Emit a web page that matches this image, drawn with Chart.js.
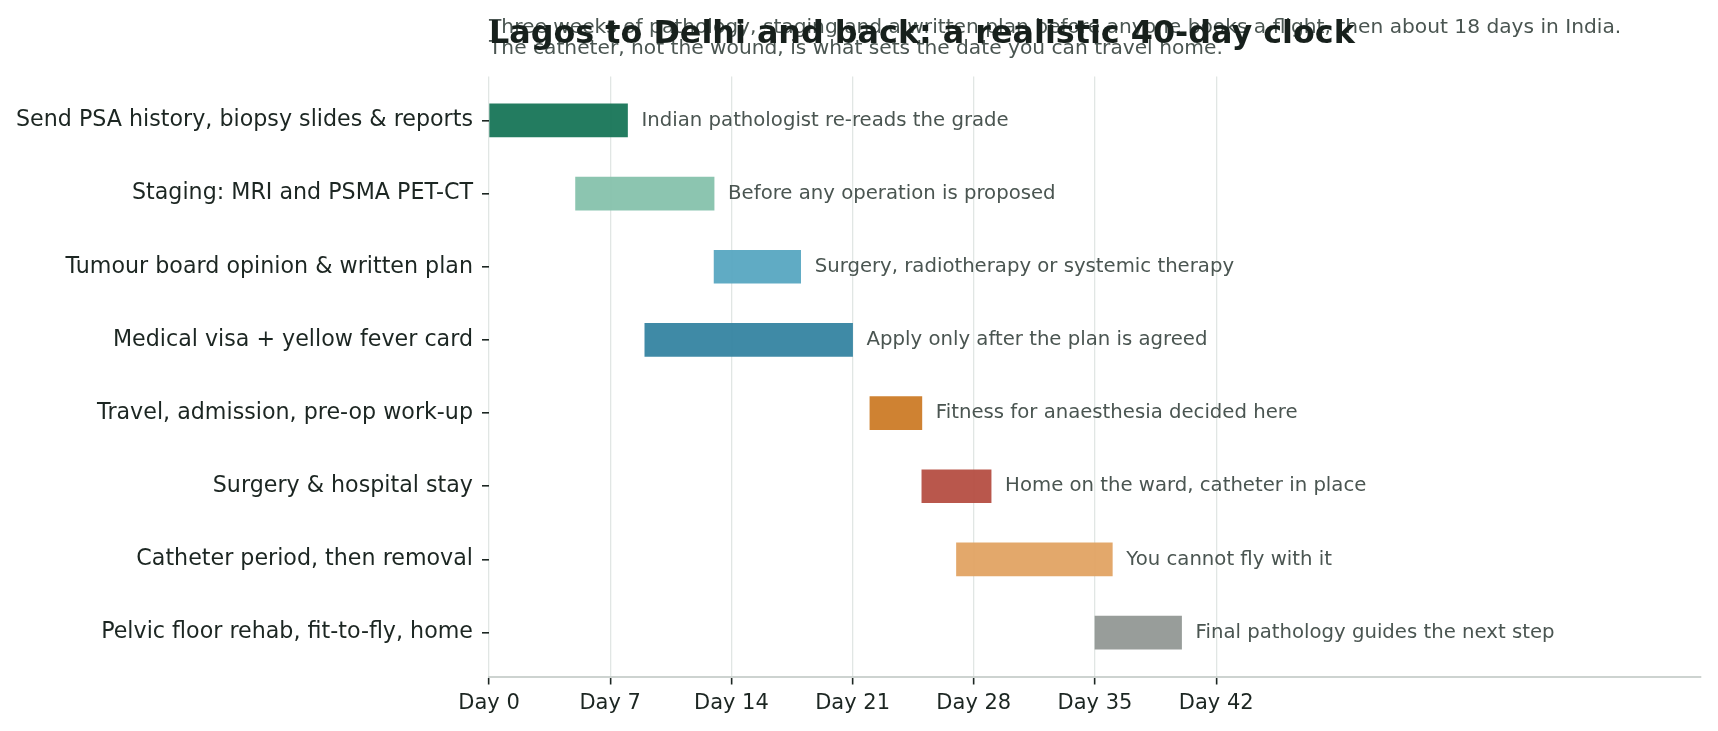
<!DOCTYPE html>
<html>
<head>
<meta charset="utf-8">
<script src="https://cdn.jsdelivr.net/npm/chart.js@4.4.1/dist/chart.umd.min.js"></script>
<style>
  html, body { margin: 0; padding: 0; background: #fff; }
  canvas { display: block; }
</style>
</head>
<body>
<canvas id="clock" width="1718" height="731"></canvas>
<script>
const tasks = [
  'Send PSA history, biopsy slides & reports',
  'Staging: MRI and PSMA PET-CT',
  'Tumour board opinion & written plan',
  'Medical visa + yellow fever card',
  'Travel, admission, pre-op work-up',
  'Surgery & hospital stay',
  'Catheter period, then removal',
  'Pelvic floor rehab, fit-to-fly, home',
];
const startDay = [0, 5, 13, 9, 22, 25, 27, 35];
const endDay = [8, 13, 18, 21, 25, 29, 36, 40];
const notes = [
  'Indian pathologist re-reads the grade',
  'Before any operation is proposed',
  'Surgery, radiotherapy or systemic therapy',
  'Apply only after the plan is agreed',
  'Fitness for anaesthesia decided here',
  'Home on the ward, catheter in place',
  'You cannot fly with it',
  'Final pathology guides the next step',
];
const barColors = [
  'rgba(23,117,87,0.95)',
  'rgba(134,194,172,0.95)',
  'rgba(87,166,193,0.95)',
  'rgba(53,132,161,0.95)',
  'rgba(204,123,39,0.95)',
  'rgba(181,78,66,0.95)',
  'rgba(226,163,99,0.95)',
  'rgba(146,152,149,0.95)',
];
const dayTicks = [0, 7, 14, 21, 28, 35, 42];

const title = 'Lagos to Delhi and back: a realistic 40-day clock';
const subtitle = [
  'Three weeks of pathology, staging and a written plan before anyone books a flight, then about 18 days in India.',
  'The catheter, not the wound, is what sets the date you can travel home.',
];

const FONT = '"DejaVu Sans", sans-serif';
const INK = '#1c2622';
const MUTED = '#4a5551';

const textPlugin = {
  id: 'textPlugin',
  afterDatasetsDraw(chart) {
    const { ctx, scales: { x, y } } = chart;
    ctx.save();
    ctx.font = `19.7px ${FONT}`;
    ctx.fillStyle = MUTED;
    ctx.textBaseline = 'middle';
    ctx.textAlign = 'left';
    notes.forEach((note, i) => {
      ctx.fillText(note, x.getPixelForValue(endDay[i]) + 14, y.getPixelForValue(i));
    });
    ctx.restore();
  },
  afterDraw(chart) {
    const { ctx, chartArea } = chart;
    ctx.save();
    ctx.textAlign = 'left';
    ctx.textBaseline = 'alphabetic';
    ctx.font = `20.2px ${FONT}`;
    ctx.fillStyle = MUTED;
    ctx.fillText(subtitle[0], chartArea.left, 33);
    ctx.fillText(subtitle[1], chartArea.left, 54);
    ctx.font = `bold 31.8px ${FONT}`;
    ctx.fillStyle = '#17201c';
    ctx.fillText(title, chartArea.left, 43);
    ctx.restore();
  },
};

new Chart(document.getElementById('clock'), {
  type: 'bar',
  data: {
    datasets: [{
      data: tasks.map((_, i) => ({ x: [startDay[i], endDay[i]], y: i })),
      backgroundColor: barColors,
      borderWidth: 0,
      borderSkipped: false,
      barThickness: 33,
    }],
  },
  options: {
    indexAxis: 'y',
    responsive: false,
    devicePixelRatio: 1,
    animation: false,
    layout: { padding: { top: 76.5, right: 17, left: 0, bottom: 0 } },
    scales: {
      x: {
        type: 'linear',
        min: 0,
        max: 70,
        afterBuildTicks: (scale) => { scale.ticks = dayTicks.map((v) => ({ value: v })); },
        afterFit: (scale) => { scale.height = 54.5; },
        ticks: { callback: (v) => 'Day ' + v, color: INK, font: { family: FONT, size: 21 }, padding: 6, maxRotation: 0 },
        grid: { color: '#e1e6e4', lineWidth: 1.3, tickLength: 8, tickColor: INK, tickWidth: 1.6 },
        border: { display: true, color: '#cdd3d0', width: 2 },
      },
      y: {
        type: 'linear',
        reverse: true,
        offset: false,
        min: -0.6,
        max: 7.6,
        afterBuildTicks: (scale) => { scale.ticks = tasks.map((_, i) => ({ value: i })); },
        afterFit: (scale) => { scale.width = 489; },
        ticks: { callback: (v) => tasks[v], color: INK, font: { family: FONT, size: 22.2 }, padding: 9, autoSkip: false },
        grid: { offset: false, drawOnChartArea: false, tickLength: 7, color: INK, lineWidth: 1.6 },
        border: { display: false },
      },
    },
    plugins: {
      legend: { display: false },
      tooltip: { enabled: false },
      title: { display: false },
    },
  },
  plugins: [textPlugin],
});
</script>
</body>
</html>
